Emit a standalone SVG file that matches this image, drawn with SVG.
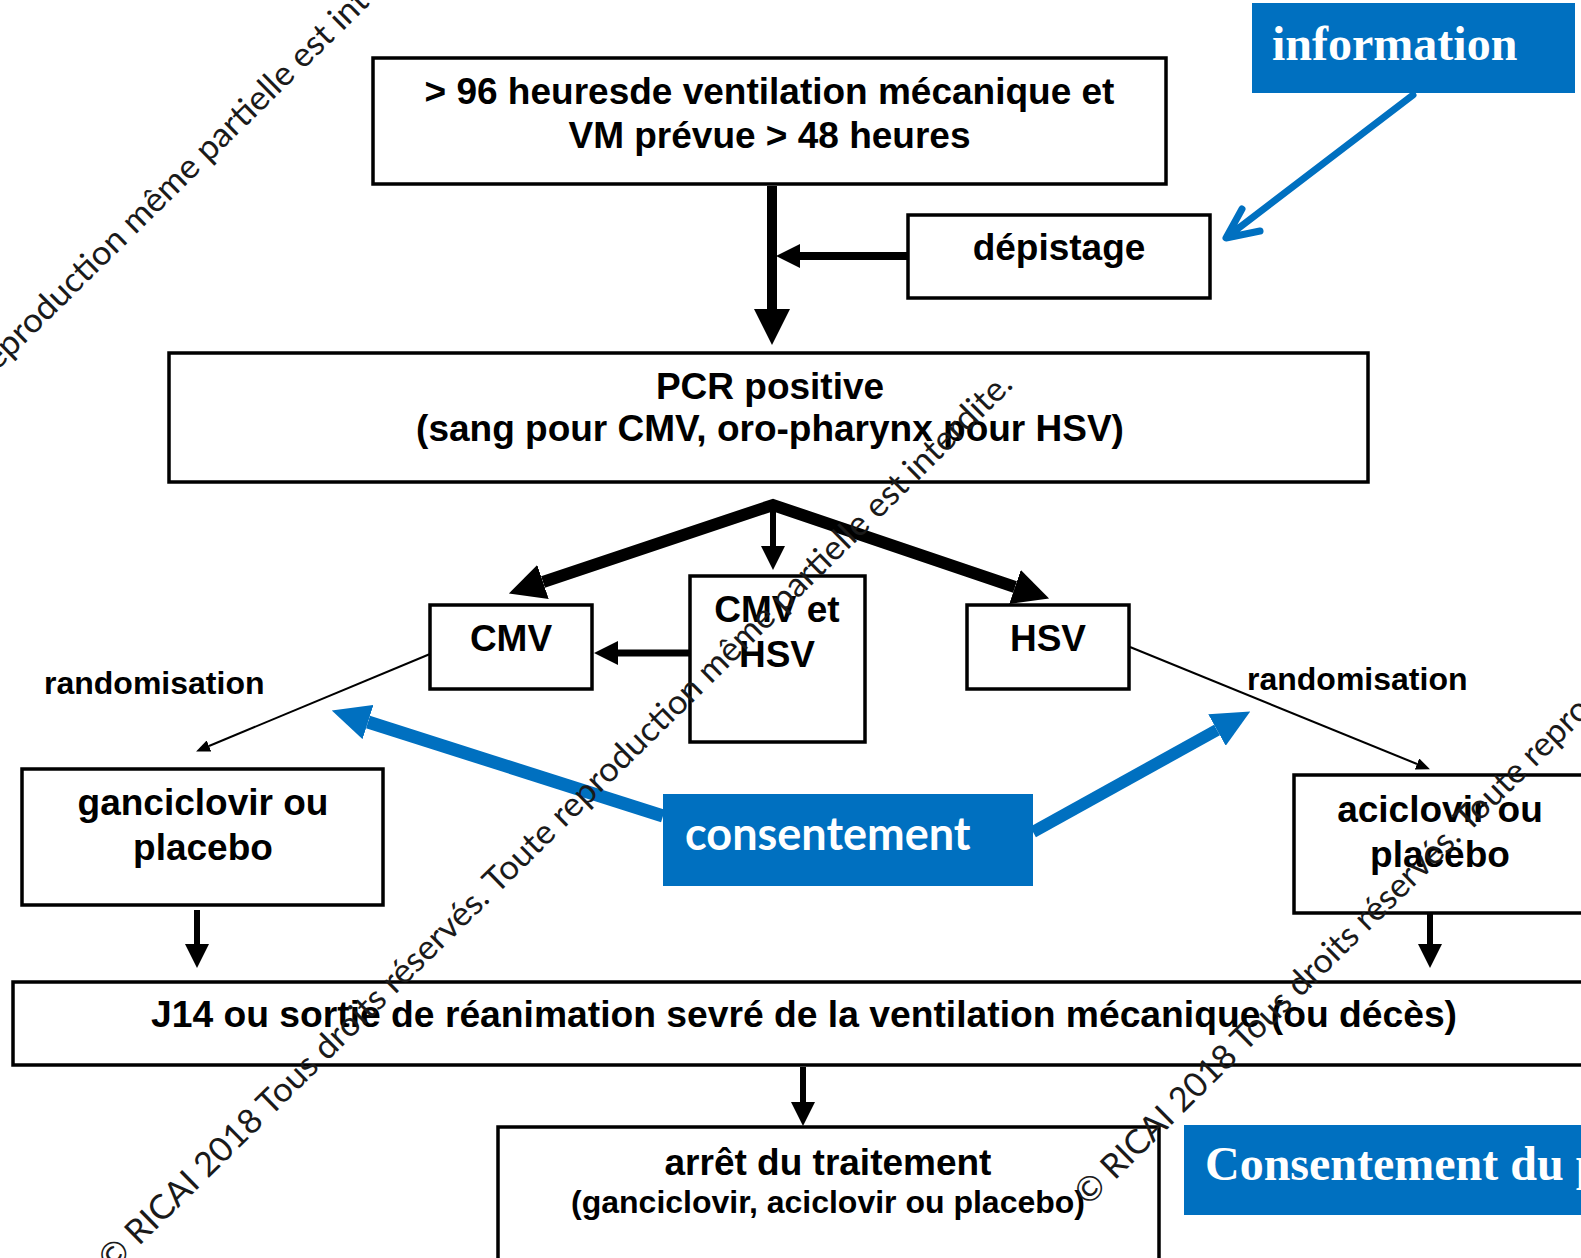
<svg xmlns="http://www.w3.org/2000/svg" width="1581" height="1258" viewBox="0 0 1581 1258">
<style>
.box{fill:#fff;stroke:#000;stroke-width:3.5}
.blue{fill:#0070C0;stroke:none}
.t{font-family:"Liberation Sans",Arial,sans-serif;font-weight:bold;font-size:37px;fill:#000;text-anchor:middle}
.s{font-size:32px}
.l{text-anchor:start}
.w{font-family:"Liberation Serif","Times New Roman",serif;font-weight:bold;font-size:48px;fill:#fff}
.c{font-family:Lato,"Open Sans",sans-serif;font-weight:bold;font-size:45px;fill:#fff}
.k{fill:none;stroke:#000}
.b{fill:none;stroke:#0070C0}
.wm{font-family:Lato,"Open Sans",sans-serif;font-size:34px;fill:#1a1a1a}
</style>
<defs>
<marker id="hBig" markerUnits="userSpaceOnUse" viewBox="0 0 36 36" markerWidth="36" markerHeight="36" refX="0" refY="18" orient="auto-start-reverse"><path d="M0,0 L36,18 L0,36 z" fill="#000"/></marker>
<marker id="hMid" markerUnits="userSpaceOnUse" viewBox="0 0 24 24" markerWidth="24" markerHeight="24" refX="0" refY="12" orient="auto"><path d="M0,0 L24,12 L0,24 z" fill="#000"/></marker>
<marker id="hThin" markerUnits="userSpaceOnUse" viewBox="0 0 14 12" markerWidth="14" markerHeight="12" refX="0" refY="6" orient="auto"><path d="M0,0 L14,6 L0,12 z" fill="#000"/></marker>
<marker id="hBlue" markerUnits="userSpaceOnUse" viewBox="0 0 38 36" markerWidth="38" markerHeight="36" refX="0" refY="18" orient="auto"><path d="M0,0 L38,18 L0,36 z" fill="#0070C0"/></marker>
</defs>
<rect width="1581" height="1258" fill="#fff"/>

<g id="connectors">
<line class="k" x1="772" y1="186" x2="772" y2="309" stroke-width="10" marker-end="url(#hBig)"/>
<line class="k" x1="908" y1="256" x2="800" y2="256" stroke-width="8" marker-end="url(#hMid)"/>
<path class="k" d="M543,582 L773,505 L1015,587" stroke-width="12" stroke-linejoin="miter" marker-start="url(#hBig)" marker-end="url(#hBig)"/>
<line class="k" x1="773" y1="505" x2="773" y2="546" stroke-width="6" marker-end="url(#hMid)"/>
<line class="k" x1="690" y1="653" x2="618" y2="653" stroke-width="7" marker-end="url(#hMid)"/>
<line class="k" x1="430" y1="654" x2="209" y2="746" stroke-width="2" marker-end="url(#hThin)"/>
<line class="k" x1="1130" y1="647" x2="1417" y2="764" stroke-width="2" marker-end="url(#hThin)"/>
<line class="k" x1="197" y1="910" x2="197" y2="944" stroke-width="6" marker-end="url(#hMid)"/>
<line class="k" x1="1430" y1="912" x2="1430" y2="944" stroke-width="6" marker-end="url(#hMid)"/>
<line class="k" x1="803" y1="1067" x2="803" y2="1102" stroke-width="6" marker-end="url(#hMid)"/>
<line class="b" x1="663" y1="816" x2="368" y2="722" stroke-width="13" marker-end="url(#hBlue)"/>
<line class="b" x1="1033" y1="832" x2="1217" y2="730" stroke-width="12" marker-end="url(#hBlue)"/>
<path class="b" d="M1413,95 L1227,237 M1242,209 L1226,238 L1260,231" stroke-width="7" stroke-linecap="round" stroke-linejoin="round"/>
</g>

<g id="n-top"><rect class="box" x="373" y="58" width="793" height="126"/>
<text class="t" x="769.5" y="104">&gt; 96 heuresde ventilation mécanique et</text>
<text class="t" x="769.5" y="148">VM prévue &gt; 48 heures</text></g>

<g id="n-depistage"><rect class="box" x="908" y="215" width="302" height="83"/>
<text class="t" x="1059" y="260">dépistage</text></g>

<g id="n-pcr"><rect class="box" x="169" y="353" width="1199" height="129"/>
<text class="t" x="770" y="399">PCR positive</text>
<text class="t" x="770" y="441">(sang pour CMV, oro-pharynx pour HSV)</text></g>

<g id="n-cmv"><rect class="box" x="430" y="605" width="162" height="84"/>
<text class="t" x="511" y="651">CMV</text></g>

<g id="n-cmvhsv"><rect class="box" x="690" y="576" width="175" height="166"/>
<text class="t" x="777" y="622">CMV et</text>
<text class="t" x="777" y="667">HSV</text></g>

<g id="n-hsv"><rect class="box" x="967" y="605" width="162" height="84"/>
<text class="t" x="1048" y="651">HSV</text></g>

<g id="l-rand1"><text class="t s l" x="44" y="694">randomisation</text></g>
<g id="l-rand2"><text class="t s l" x="1247" y="690">randomisation</text></g>

<g id="n-ganciclovir"><rect class="box" x="22" y="769" width="361" height="136"/>
<text class="t" x="203" y="815">ganciclovir ou</text>
<text class="t" x="203" y="860">placebo</text></g>

<g id="n-aciclovir"><rect class="box" x="1294" y="775" width="300" height="138"/>
<text class="t" x="1440" y="822">aciclovir ou</text>
<text class="t" x="1440" y="867">placebo</text></g>

<g id="n-consentement"><rect class="blue" x="663" y="794" width="370" height="92"/>
<text class="c" x="685" y="850">consentement</text></g>

<g id="n-j14"><rect class="box" x="13" y="982" width="1590" height="83"/>
<text class="t l" x="151" y="1027" textLength="1306" lengthAdjust="spacingAndGlyphs">J14 ou sortie de réanimation sevré de la ventilation mécanique (ou décès)</text></g>

<g id="n-arret"><rect class="box" x="498" y="1127" width="661" height="140"/>
<text class="t" x="828" y="1175">arrêt du traitement</text>
<text class="t s" x="828" y="1213">(ganciclovir, aciclovir ou placebo)</text></g>

<g id="n-information"><rect class="blue" x="1252" y="3" width="323" height="90"/>
<text class="w" x="1272" y="60">information</text></g>

<g id="n-consentement-du"><rect class="blue" x="1184" y="1125" width="420" height="90"/>
<text class="w" x="1205" y="1180">Consentement du p</text></g>

<g id="watermark">
<text class="wm" transform="translate(112,1273) rotate(-44.5)" textLength="1265" lengthAdjust="spacingAndGlyphs">© RICAI 2018 Tous droits réservés. Toute reproduction même partielle est interdite.</text>
<text class="wm" transform="translate(1088,1207) rotate(-44.5)" textLength="1250" lengthAdjust="spacingAndGlyphs">© RICAI 2018 Tous droits réservés. Toute reproduction même partielle est interdite.</text>
<text class="wm" transform="translate(-466,826) rotate(-44.5)" textLength="1270" lengthAdjust="spacingAndGlyphs">© RICAI 2018 Tous droits réservés. Toute reproduction même partielle est interdite.</text>
</g>
</svg>
